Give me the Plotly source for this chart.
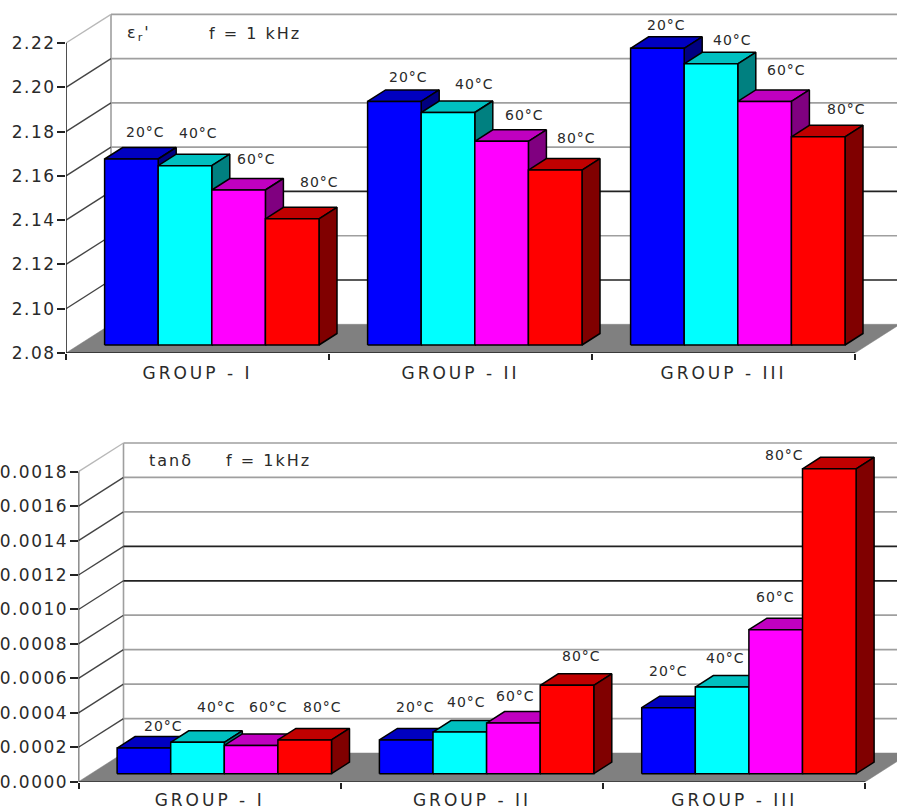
import plotly.graph_objects as go

# ---- data ----
groups = ["GROUP - I", "GROUP - II", "GROUP - III"]
temps = ["20°C", "40°C", "60°C", "80°C"]

er_20 = [2.164, 2.190, 2.214]
er_40 = [2.161, 2.185, 2.207]
er_60 = [2.150, 2.172, 2.190]
er_80 = [2.137, 2.159, 2.174]

tan_20 = [0.000149, 0.000196, 0.000383]
tan_40 = [0.000182, 0.000242, 0.000503]
tan_60 = [0.000164, 0.000294, 0.000836]
tan_80 = [0.000196, 0.000513, 0.001770]

er_ticks = [2.08, 2.10, 2.12, 2.14, 2.16, 2.18, 2.20, 2.22]
er_tick_labels = ["2.08", "2.10", "2.12", "2.14", "2.16", "2.18", "2.20", "2.22"]
tan_ticks = [0.0, 0.0002, 0.0004, 0.0006, 0.0008, 0.0010, 0.0012, 0.0014, 0.0016, 0.0018]
tan_tick_labels = ["0.0000", "0.0002", "0.0004", "0.0006", "0.0008", "0.0010", "0.0012", "0.0014", "0.0016", "0.0018"]

# ---- styling ----
W, H = 897, 809
FONT = "DejaVu Sans"
TXT = "#2a2a2a"
FRONT = ["#0000ff", "#00ffff", "#ff00ff", "#ff0000"]
TOP = ["#0000c0", "#00c0c0", "#c000c0", "#c00000"]
SIDE = ["#000080", "#008080", "#800080", "#800000"]
GRAY = "#9f9f9f"
LIGHT = "#b8b8b8"
DARK = "#222222"

# wall line colours, one per tick above the floor
er_wall = [DARK, GRAY, DARK, GRAY, GRAY, GRAY, GRAY]
tan_wall = [GRAY, GRAY, GRAY, GRAY, DARK, DARK, GRAY, GRAY, GRAY]

# label offsets from the top-centre of each bar (px): [group][series]
er_off = [[(14, 27), (13, 33), (18, 31), (27, 37)],
          [(14, 24), (26, 29), (23, 26), (21, 32)],
          [(9, 23), (21, 24), (22, 31), (28, 28)]]
tan_off = [[(20, 22), (19, 35), (17, 38), (18, 33)],
           [(9, 33), (7, 30), (2, 27), (14, 29)],
           [(0, 37), (3, 29), (0, 33), (-45, 14)]]

fig = go.Figure()
annotations = []


def poly(xs, ys, fill, xa, ya, lw=1.5, lc="#000000"):
    fig.add_trace(go.Scatter(
        x=xs + xs[:1], y=ys + ys[:1], mode="lines", fill="toself", fillcolor=fill,
        line=dict(color=lc, width=lw), xaxis=xa, yaxis=ya, hoverinfo="skip",
        showlegend=False, cliponaxis=False))


def line(xs, ys, color, width, xa, ya):
    fig.add_trace(go.Scatter(
        x=xs, y=ys, mode="lines", line=dict(color=color, width=width),
        xaxis=xa, yaxis=ya, hoverinfo="skip", showlegend=False, cliponaxis=False))


def panel(series, ticks, wall, offs, gw, x_left, y_bottom, y_top_px, xa, ya):
    vmin, vmax = ticks[0], ticks[-1]
    py = (vmax - vmin) / 310.0        # value units per pixel
    px = 1.0 / gw                     # group units per pixel
    deep_x, deep_y = 45 * px, 28.7 * py
    # back wall and side wall
    line([deep_x, deep_x], [vmin + deep_y, vmax + deep_y], GRAY, 1.6, xa, ya)
    for k, t in enumerate(ticks[1:]):
        c = wall[k]
        side_c = LIGHT if k == len(ticks) - 2 else "#444444"
        line([0, deep_x], [t, t + deep_y], side_c, 1.4, xa, ya)
        line([deep_x, 3 + deep_x], [t + deep_y, t + deep_y], c, 1.7, xa, ya)
    # floor
    poly([0, 3, 3 + deep_x, deep_x], [vmin, vmin, vmin + deep_y, vmin + deep_y],
         "#808080", xa, ya, lw=0.5, lc="#808080")
    # axes lines
    line([0, 0], [vmin, vmax], DARK, 1.6, xa, ya)
    line([0, 3], [vmin, vmin], DARK, 1.6, xa, ya)
    # bars
    bw, start = 53.6 * px, 38.6 * px
    sx, sy = 18 * px, 11.5 * py
    lift = 8 * py
    for g in range(3):
        for i, vals in enumerate(series):
            x0 = g + start + i * bw
            x1 = x0 + bw
            y0 = vmin + lift
            y1 = vals[g] + lift
            poly([x0, x1, x1 + sx, x0 + sx], [y1, y1, y1 + sy, y1 + sy], TOP[i], xa, ya)
            poly([x1, x1 + sx, x1 + sx, x1], [y0, y0 + sy, y1 + sy, y1], SIDE[i], xa, ya)
            poly([x0, x1, x1, x0], [y0, y0, y1, y1], FRONT[i], xa, ya)
            dx, dy = offs[g][i]
            annotations.append(dict(
                x=(x0 + x1) / 2, y=y1, xref=xa, yref=ya, xshift=dx, yshift=dy,
                text=temps[i], showarrow=False, font=dict(family=FONT, size=14, color=TXT),
                xanchor="center", yanchor="middle"))


def axes(n, ticks, labels, gw, x_left, y_bottom, y_top_px, standoff):
    vmin, vmax = ticks[0], ticks[-1]
    py = (vmax - vmin) / 310.0
    sfx = "" if n == 1 else str(n)
    fig.layout["xaxis" + sfx] = dict(
        domain=[x_left / W, 1], range=[0, (W - x_left) / gw], anchor="y" + sfx,
        showgrid=False, zeroline=False, showline=False,
        tickmode="array", tickvals=[0.5, 1.5, 2.5], ticktext=groups, ticks="",
        ticklabelstandoff=standoff, tickfont=dict(family=FONT, size=17, color=TXT),
        minor=dict(tickmode="array", tickvals=[0, 1, 2, 3], ticks="outside", ticklen=6,
                   tickwidth=1.5, tickcolor=DARK, showgrid=False))
    fig.layout["yaxis" + sfx] = dict(
        domain=[1 - y_bottom / H, 1 - y_top_px / H],
        range=[vmin, vmin + (y_bottom - y_top_px) * py], anchor="x" + sfx,
        showgrid=False, zeroline=False, showline=False,
        tickmode="array", tickvals=ticks, ticktext=labels, ticks="outside", ticklen=8,
        ticklabelstandoff=-2, tickwidth=1.5, tickcolor=DARK,
        tickfont=dict(family=FONT, size=17, color=TXT))


er = [er_20, er_40, er_60, er_80]
tan = [tan_20, tan_40, tan_60, tan_80]
panel(er, er_ticks, er_wall, er_off, 263.0, 66, 353, 10, "x", "y")
panel(tan, tan_ticks, tan_wall, tan_off, 262.3, 78.5, 781.7, 435, "x2", "y2")

fig.update_layout(width=W, height=H, autosize=False,
                  margin=dict(l=0, r=0, t=0, b=0, autoexpand=False),
                  paper_bgcolor="white", plot_bgcolor="white", showlegend=False)
axes(1, er_ticks, er_tick_labels, 263.0, 66, 353, 10, 8)
axes(2, tan_ticks, tan_tick_labels, 262.3, 78.5, 781.7, 435, 6)


def note(text, xpx, gw, x_left, yval, xa, ya):
    annotations.append(dict(x=(xpx - x_left) / gw, y=yval, xref=xa, yref=ya, text=text,
                            showarrow=False, xanchor="left", yanchor="middle",
                            font=dict(family=FONT, size=16, color=TXT)))


note("ε<sub>r</sub>'", 128, 263.0, 66, 2.22 + 9.5 * 0.14 / 310, "x", "y")
note("f = 1 kHz", 216, 263.0, 66, 2.22 + 9.5 * 0.14 / 310, "x", "y")
note("tanδ", 151, 262.3, 78.5, 0.0018 + 11.5 * 0.0018 / 310, "x2", "y2")
note("f = 1kHz", 232, 262.3, 78.5, 0.0018 + 11.5 * 0.0018 / 310, "x2", "y2")
fig.layout.annotations = annotations

post = """
document.body.style.margin='0';document.body.style.overflow='hidden';
document.querySelectorAll('.ytick text, .y2tick text').forEach(function(t){t.style.letterSpacing='1.5px';});
document.querySelectorAll('.xtick text, .x2tick text').forEach(function(t){t.style.letterSpacing='3px';});
document.querySelectorAll('.annotation-text').forEach(function(t){
  t.style.letterSpacing = t.textContent.indexOf('°')>=0 ? '1px' : '2px';});
"""
fig.write_html("out.html", config={"displayModeBar": False}, post_script=post)
